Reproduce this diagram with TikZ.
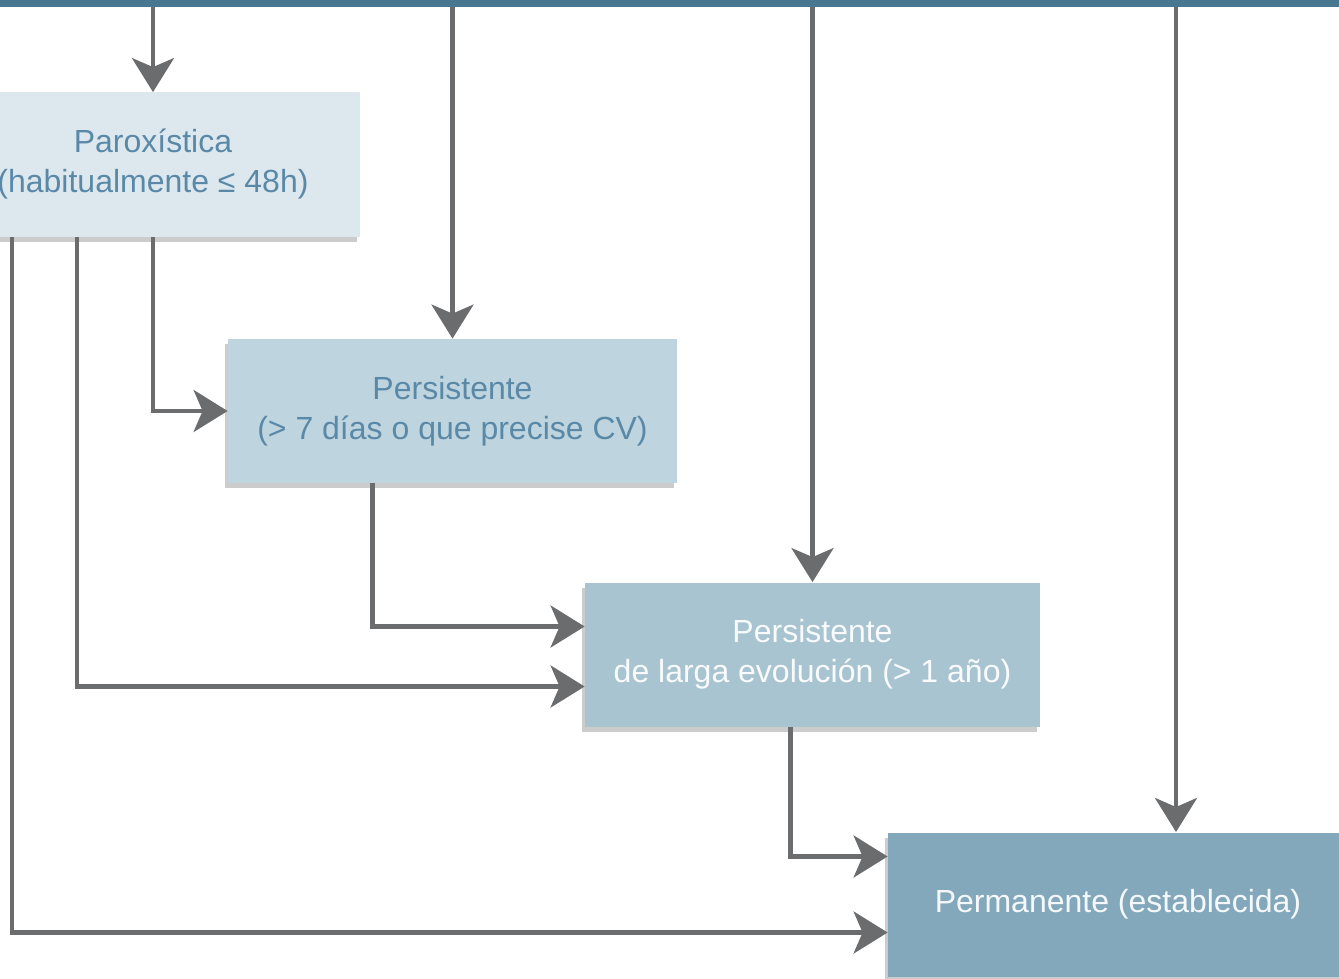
\documentclass[tikz,border=0pt]{standalone}
\usepackage{fontspec}
\setmainfont{Liberation Sans}
\usetikzlibrary{arrows.meta,shadows}

\definecolor{barcol}{HTML}{477791}
\definecolor{linecol}{HTML}{6B6C6E}
\definecolor{txtcol}{HTML}{5A89A8}
\definecolor{fillA}{HTML}{DDE8EE}
\definecolor{fillB}{HTML}{BED4DF}
\definecolor{fillC}{HTML}{A8C4D1}
\definecolor{fillD}{HTML}{83A8BB}

\tikzset{
  box/.style={inner sep=0pt, align=center, minimum height=72pt,
    font=\fontsize{16}{20}\selectfont,
    drop shadow={shadow xshift=-1.5pt, shadow yshift=-2.5pt, opacity=0.2, fill=black}},
  arr/.style={draw=linecol, line width=2.2pt,
    -{Stealth[length=17pt,width=21pt,inset=4.5pt]}},
}

\begin{document}
\begin{tikzpicture}[x=0.5pt, y=-0.5pt]
    \useasboundingbox (0,0) rectangle (1339,979);
    \clip (0,0) rectangle (1339,979);

    \node[fill=barcol, minimum width=680pt, minimum height=3.5pt, inner sep=0pt] (bar) at (669.5,3.5) {};

	\node[box, fill=fillA, text=txtcol, minimum width=207pt] (paro) at (153,164.5)
	    {Paroxística\\(habitualmente ≤ 48h)};
	\node[box, fill=fillB, text=txtcol, minimum width=224.5pt] (pers) at (452.5,411)
	    {Persistente\\(> 7 días o que precise CV)};
	\node[box, fill=fillC, text=white!92!fillC, minimum width=227.5pt] (larga) at (812.5,654.5)
	    {Persistente\\de larga evolución (> 1 año)};
	\node[box, fill=fillD, text=white!92!fillD, minimum width=230pt] (perm) at (1118,904.5)
	    {Permanente (establecida)};

	\coordinate (permtop) at (1176,832);

	% desde la barra superior
	\draw[arr] (bar.south -| paro) -- (paro);
	\draw[arr] (bar.south -| pers) -- (pers);
	\draw[arr] (bar.south -| larga) -- (larga);
	\draw[arr] (bar.south -| permtop) -- (permtop);

	% conexiones entre cajas
	\draw[arr] (paro.south) |- (pers.west);
	\draw[arr] ([xshift=-38pt]paro.south) |- ([yshift=-16pt]larga.west);
	\draw[arr] ([xshift=-70.5pt]paro.south) |- ([yshift=-14pt]perm.west);
	\draw[arr] ([xshift=-40pt]pers.south) |- ([yshift=14pt]larga.west);
	\draw[arr] ([xshift=-11pt]larga.south) |- ([yshift=24pt]perm.west);
\end{tikzpicture}
\end{document}
